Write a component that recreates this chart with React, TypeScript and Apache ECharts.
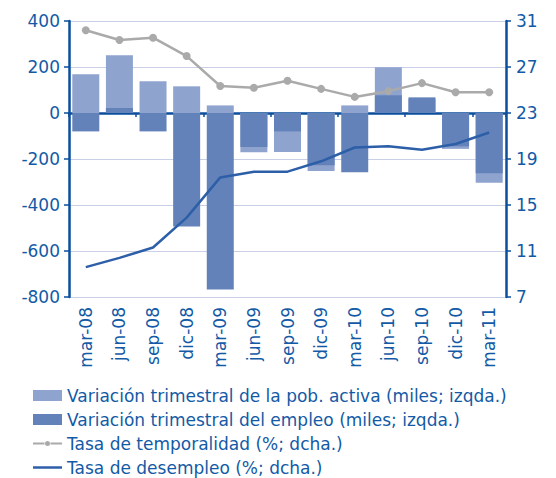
import React, { useEffect, useRef } from "react";
import * as echarts from "echarts";

const categories = ["mar-08","jun-08","sep-08","dic-08","mar-09","jun-09","sep-09","dic-09","mar-10","jun-10","sep-10","dic-10","mar-11"];
const pobActiva = [168, 251, 138, 116, 33, -171, -170, -252, 33, 199, 62, -156, -303];
const empleo = [-80, 22, -80, -493, -767, -148, -80, -227, -258, 77, 68, -145, -262];
const temporalidad = [30.2, 29.35, 29.55, 27.95, 25.35, 25.2, 25.8, 25.1, 24.4, 24.9, 25.6, 24.8, 24.8];
const desempleo = [9.6, 10.4, 11.3, 13.9, 17.4, 17.9, 17.9, 18.8, 20.0, 20.1, 19.8, 20.3, 21.3];

const seriesNames = [
  "Variación trimestral de la pob. activa (miles; izqda.)",
  "Variación trimestral del empleo (miles; izqda.)",
  "Tasa de temporalidad (%; dcha.)",
  "Tasa de desempleo (%; dcha.)",
];

const AXIS = "#0b4f9c";
const TEXT = "#135aa6";
const GRID = "#c9cfe6";
const FONT = "DejaVu Sans";

const ICON_LINE_DOT =
  "path://M0,4.5 H11.5 V6.5 H0 Z M17.5,4.5 H29 V6.5 H17.5 Z M12,5.5 A2.5,2.5 0 1,0 17,5.5 A2.5,2.5 0 1,0 12,5.5 Z";
const ICON_LINE = "path://M0,0 H29 V2.5 H0 Z";

export default function App() {
  const ref = useRef<HTMLDivElement>(null);
  useEffect(() => {
    const chart = echarts.init(ref.current!, null, { renderer: "svg" });
    chart.setOption({
      animation: false,
      textStyle: { fontFamily: FONT },
      grid: { left: 69, right: 50, top: 21, bottom: 181, containLabel: false },
      legend: {
        orient: "vertical",
        left: 33,
        top: 386,
        itemWidth: 29,
        itemHeight: 11,
        itemGap: 5,
        padding: 0,
        textStyle: { color: TEXT, fontSize: 17, fontFamily: FONT, lineHeight: 19 },
        data: [
          { name: seriesNames[0], icon: "rect" },
          { name: seriesNames[1], icon: "rect" },
          { name: seriesNames[2], icon: ICON_LINE_DOT },
          { name: seriesNames[3], icon: ICON_LINE },
        ],
      },
      xAxis: [
        {
          type: "category",
          data: categories,
          axisLine: { onZero: true, lineStyle: { color: AXIS, width: 2.5 } },
          axisTick: { show: true, length: 4, lineStyle: { color: AXIS, width: 1.5 } },
          axisLabel: { show: false },
          splitLine: { show: false },
        },
        {
          type: "category",
          data: categories,
          position: "bottom",
          axisLine: { show: false, onZero: false },
          axisTick: { show: false },
          axisLabel: { rotate: 90, margin: 10, color: TEXT, fontSize: 17, fontFamily: FONT },
        },
      ],
      yAxis: [
        {
          type: "value",
          min: -800,
          max: 400,
          interval: 200,
          axisLine: { show: true, lineStyle: { color: AXIS, width: 2.5 } },
          axisTick: { show: true, length: 5, lineStyle: { color: AXIS, width: 1.5 } },
          axisLabel: { color: TEXT, fontSize: 17, margin: 9, fontFamily: FONT },
          splitLine: { show: true, lineStyle: { color: GRID, width: 1 } },
        },
        {
          type: "value",
          min: 7,
          max: 31,
          interval: 4,
          position: "right",
          axisLine: { show: true, lineStyle: { color: AXIS, width: 2.5 } },
          axisTick: { show: true, length: 5, lineStyle: { color: AXIS, width: 1.5 } },
          axisLabel: { color: TEXT, fontSize: 17, margin: 10, fontFamily: FONT },
          splitLine: { show: false },
        },
      ],
      series: [
        {
          name: seriesNames[0],
          type: "bar",
          data: pobActiva,
          barWidth: 27,
          barGap: "-100%",
          itemStyle: { color: "#8fa3cf" },
        },
        {
          name: seriesNames[1],
          type: "bar",
          data: empleo,
          barWidth: 27,
          barGap: "-100%",
          itemStyle: { color: "#6482ba" },
        },
        {
          name: seriesNames[2],
          type: "line",
          yAxisIndex: 1,
          data: temporalidad,
          symbol: "circle",
          symbolSize: 8,
          lineStyle: { color: "#aaaaaa", width: 2.5 },
          itemStyle: { color: "#aaaaaa" },
        },
        {
          name: seriesNames[3],
          type: "line",
          yAxisIndex: 1,
          data: desempleo,
          symbol: "none",
          lineStyle: { color: "#2c5fa8", width: 2.5 },
          itemStyle: { color: "#2c5fa8" },
        },
      ],
    });
    return () => chart.dispose();
  }, []);
  return (
    <div
      ref={ref}
      style={{ position: "absolute", left: 0, top: 0, width: 556, height: 478, background: "#fff" }}
    />
  );
}
